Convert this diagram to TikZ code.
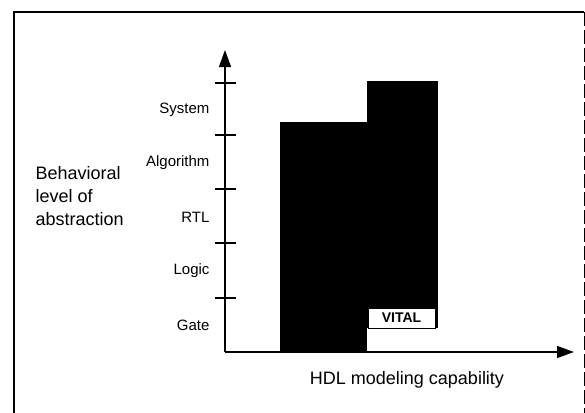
\documentclass[tikz,border=0pt]{standalone}
\usepackage{fontspec}
\setmainfont{Liberation Sans}
\usetikzlibrary{shapes,arrows.meta}

\begin{document}
\begin{tikzpicture}[x=1pt,y=-1pt,
    lvl/.style={anchor=east,font=\fontsize{15}{18}\selectfont},
    tick/.style={line width=1.2pt},
    axis/.style={line width=1.3pt,-{Triangle[length=17pt,width=12pt]}}]

      \useasboundingbox (0,0) rectangle (585,412);

      % frame round the figure
      \draw[line width=2.6pt] (14,420) -- (14,12) -- (584,12);
      \draw[line width=0.8pt,dash pattern=on 14pt off 4pt] (584,12) -- (584,420);

      \coordinate (O) at (225,352);
      \coordinate (ytop) at (225,50);
      \coordinate (xend) at (574,352);

      % bars
      \node[rectangle,
            fill = black,
            inner sep = 0pt,
            minimum width = 87pt,
            minimum height = 230pt] (B1) at (323.5,237) {};

      \node[rectangle,
            fill = black,
            inner sep = 0pt,
            minimum width = 71pt,
            minimum height = 247pt] (B2) at (402.5,204.5) {};

      \node[rectangle,
            draw,
            line width = 1pt,
            fill = white,
            inner sep = 0pt,
            minimum width = 67pt,
            minimum height = 20pt,
            font = \fontsize{14}{16}\selectfont\bfseries] (VITAL) at (401.5,318) {VITAL};

      % axes
      \draw[axis] (O) -- (ytop);
      \draw[axis] (O) -- (xend);

      % ticks
      \foreach \y in {83,135,189,243,298}
        \draw[tick] (215,\y) -- (236,\y);

      % levels
      \node[lvl] (sys) at (213,110) {System};
      \node[lvl] (alg) at (213,163) {Algorithm};
      \node[lvl] (rtl) at (213,217) {RTL};
      \node[lvl] (log) at (213,271) {Logic};
      \node[lvl] (gat) at (213,325) {Gate};

      \node[anchor=west,align=left,
            font=\fontsize{18}{23}\selectfont] (beh) at (32,196)
            {Behavioral\\level of\\abstraction};

      \node[font=\fontsize{18}{22}\selectfont] (hdl) at (407,380)
            {HDL modeling capability};

\end{tikzpicture}
\end{document}
